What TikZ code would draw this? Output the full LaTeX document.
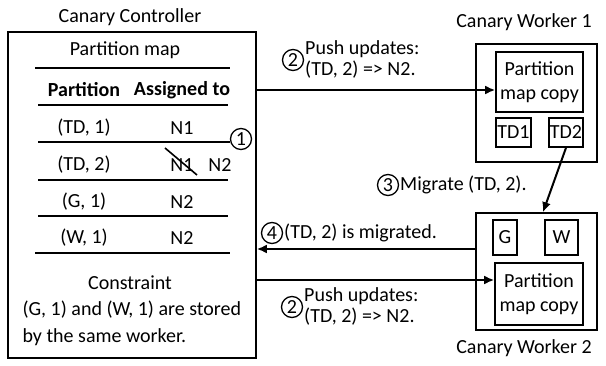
\documentclass[tikz,border=0pt]{standalone}
\usepackage{fontspec}
\setmainfont{Carlito}
\usetikzlibrary{arrows.meta}

\tikzset{
  box/.style={draw=black, line width=1.6pt, inner sep=0pt},
  num/.style={circle, draw=black, line width=1.3pt, inner sep=0pt, minimum size=21pt},
  rule/.style={line width=2.2pt},
  flow/.style={-{Latex[length=10pt,width=9pt]}, line width=2pt},
}

\begin{document}
\begin{tikzpicture}[x=1pt, y=-1pt, font=\fontsize{20}{21}\selectfont]
\useasboundingbox (0,0) rectangle (606,366);

% controller
\node (controller_title) at (130, 17) {Canary Controller};
\node[box, minimum width=248pt, minimum height=326pt] (controller) at (132, 195) {};
\node (map_title) at (125, 50) {Partition map};
\node[font=\fontsize{20}{21}\selectfont\bfseries] (head_part) at (84, 90) {Partition};
\node[font=\fontsize{20}{21}\selectfont\bfseries] (head_assign) at (182, 90) {Assigned to};
\node (td1_part) at (84, 128) {(TD, 1)};
\node (td1_node) at (182, 128) {N1};
\node (td2_part) at (84, 165) {(TD, 2)};
\node (td2_old) at (182, 165) {N1};
\node (td2_new) at (220, 165) {N2};
\node (g1_part) at (84, 202) {(G, 1)};
\node (g1_node) at (182, 202) {N2};
\node (w1_part) at (84, 238) {(W, 1)};
\node (w1_node) at (182, 238) {N2};
\node (constraint_title) at (130, 283) {Constraint};
\node[anchor=west, align=left, font=\fontsize{20}{27}\selectfont] (constraint_text) at (19, 323.5) {(G, 1) and (W, 1) are stored\\by the same worker.};
\node[num] (step_one) at (241, 139) {1};

\draw[rule] (35, 68) -- (230, 68);
\draw[rule] (38, 105) -- (228, 105);
\draw[rule] (38, 142) -- (step_one.west |- 0, 142);
\draw[rule] (38, 180) -- (228, 180);
\draw[rule] (38, 216) -- (228, 216);
\draw[rule] (35, 253) -- (230, 253);
\draw[line width=1.6pt] (165, 148) -- (197, 175);

% worker 1
\node (worker1_title) at (524, 22) {Canary Worker 1};
\node[box, minimum width=121pt, minimum height=118pt] (worker1) at (536.5, 103) {};
\node[box, minimum width=87pt, minimum height=60pt, align=center, font=\fontsize{20}{24}\selectfont] (copy1) at (539.5, 82) {Partition\\map copy};
\node[box, minimum width=35pt, minimum height=29pt] (td1) at (513.5, 132.5) {TD1};
\node[box, minimum width=34pt, minimum height=29pt] (td2) at (566, 132.5) {TD2};

% worker 2
\node (worker2_title) at (524, 348) {Canary Worker 2};
\node[box, minimum width=121pt, minimum height=117pt] (worker2) at (536.5, 271.5) {};
\node[box, minimum width=24pt, minimum height=35pt] (g) at (505, 237.5) {G};
\node[box, minimum width=33pt, minimum height=35pt] (w) at (561.5, 237.5) {W};
\node[box, minimum width=88pt, minimum height=62pt, align=center, font=\fontsize{20}{24}\selectfont] (copy2) at (539, 294) {Partition\\map copy};

% messages
\node[num] (step_two_a) at (293, 60) {2};
\node[anchor=west, align=left, inner sep=1pt] (push_a) at (304, 59) {Push updates:\\(TD, 2) => N2.};
\node[num] (step_three) at (388, 185) {3};
\node[anchor=west, inner sep=1pt] (migrate) at (399, 185) {Migrate (TD, 2).};
\node[num] (step_four) at (272, 233) {4};
\node[anchor=west, inner sep=1pt] (migrated) at (283, 233) {(TD, 2) is migrated.};
\node[num] (step_two_b) at (292, 307) {2};
\node[anchor=west, align=left, inner sep=1pt] (push_b) at (303, 306) {Push updates:\\(TD, 2) => N2.};

\draw[flow] (controller.east |- 0, 90) -- (copy1.west |- 0, 90);
\draw[flow] (td2.south) -- (worker2.north -| 543, 0);
\draw[flow] (worker2.west |- 0, 249) -- (controller.east |- 0, 249);
\draw[flow] (controller.east |- 0, 280) -- (copy2.west |- 0, 280);

\end{tikzpicture}
\end{document}
